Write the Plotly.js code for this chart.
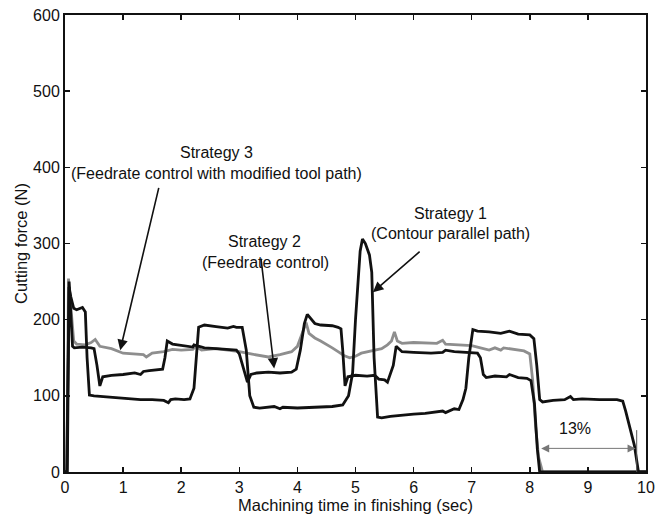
<!DOCTYPE html>
<html>
<head>
<meta charset="utf-8">
<script src="https://cdn.plot.ly/plotly-3.0.1.min.js"></script>
<style>html,body{margin:0;padding:0;background:#fff;}#chart{width:662px;height:516px;}</style>
</head>
<body>
<div id="chart"></div>
<script>
// Strategy 1 (Contour parallel path) [time sec, force N]
const strategy1 = [[0,0],[0.03,0],[0.07,243],[0.1,230],[0.15,215],[0.2,213],[0.3,216],[0.35,210],[0.38,150],[0.42,101],[0.5,100],[0.7,99],[0.9,98],[1.1,97],[1.3,95],[1.5,95],[1.7,94],[1.78,91],[1.82,95],[1.9,96],[2.05,95],[2.15,96],[2.22,110],[2.3,190],[2.4,193],[2.6,191],[2.8,189],[2.9,191],[2.95,190],[3.05,190],[3.12,160],[3.18,100],[3.25,85],[3.35,84],[3.6,86],[3.7,83],[3.75,85],[4.0,84],[4.3,85],[4.6,86],[4.78,88],[4.88,100],[4.95,130],[5.0,200],[5.08,290],[5.12,306],[5.17,300],[5.24,285],[5.28,262],[5.32,150],[5.38,72],[5.45,71],[5.6,73],[5.8,75],[6.0,76],[6.2,77],[6.4,79],[6.5,80],[6.55,78],[6.7,83],[6.78,82],[6.85,95],[6.9,110],[6.95,150],[7.02,187],[7.1,185],[7.3,184],[7.5,182],[7.6,184],[7.65,185],[7.8,181],[8.0,180],[8.07,175],[8.12,140],[8.17,95],[8.22,92],[8.4,94],[8.6,95],[8.7,99],[8.75,95],[8.9,96],[9.2,95],[9.5,95],[9.6,93],[9.65,80],[9.72,60],[9.8,35],[9.87,0],[10,0]];
// Strategy 2 (Feedrate control)
const strategy2 = [[0,0],[0.04,0],[0.07,250],[0.1,200],[0.13,165],[0.16,163],[0.3,164],[0.45,163],[0.5,162],[0.55,140],[0.6,113],[0.65,125],[0.8,127],[1.0,128],[1.2,130],[1.3,128],[1.35,132],[1.45,133],[1.6,134],[1.68,135],[1.72,150],[1.76,172],[1.85,168],[2.0,166],[2.2,164],[2.22,167],[2.4,163],[2.6,162],[2.8,161],[2.95,160],[3.0,155],[3.08,135],[3.14,118],[3.2,128],[3.3,130],[3.5,131],[3.7,130],[3.9,131],[3.98,135],[4.05,160],[4.12,195],[4.17,207],[4.25,200],[4.3,195],[4.4,193],[4.6,192],[4.7,190],[4.75,188],[4.78,160],[4.82,113],[4.87,125],[5.0,127],[5.2,126],[5.33,127],[5.4,122],[5.5,121],[5.55,118],[5.6,130],[5.65,140],[5.7,165],[5.8,158],[6.0,157],[6.3,156],[6.5,157],[6.55,160],[6.7,158],[6.9,157],[7.1,156],[7.15,150],[7.2,128],[7.25,124],[7.4,126],[7.6,125],[7.65,128],[7.8,124],[7.95,123],[8.02,120],[8.08,90],[8.13,30],[8.17,0],[10,0]];
// Strategy 3 (Feedrate control with modified tool path)
const strategy3 = [[0,0],[0.03,0],[0.06,254],[0.1,215],[0.15,172],[0.2,168],[0.35,167],[0.45,170],[0.52,174],[0.6,165],[0.8,162],[1.0,156],[1.2,155],[1.35,154],[1.4,151],[1.5,156],[1.7,158],[1.85,161],[2.0,160],[2.2,161],[2.25,165],[2.35,160],[2.6,162],[2.8,160],[3.0,158],[3.2,155],[3.4,153],[3.5,151],[3.7,154],[3.9,158],[4.0,165],[4.1,185],[4.15,196],[4.2,182],[4.3,176],[4.4,172],[4.5,168],[4.6,163],[4.7,158],[4.8,153],[4.9,150],[5.0,152],[5.1,156],[5.3,159],[5.45,162],[5.55,167],[5.62,172],[5.67,184],[5.72,172],[5.8,169],[6.0,170],[6.4,169],[6.5,173],[6.55,168],[6.8,167],[7.0,166],[7.15,163],[7.3,160],[7.4,163],[7.5,160],[7.55,163],[7.7,161],[7.9,159],[8.0,155],[8.05,120],[8.1,60],[8.15,20],[8.22,0],[10,0]];

const xTicks = [0,1,2,3,4,5,6,7,8,9,10];
const yTicks = [0,100,200,300,400,500,600];

const FONT = 'Liberation Sans, Arial, sans-serif';

function tr(arr, color) {
  return {x: arr.map(p => p[0]), y: arr.map(p => p[1]), type: 'scatter', mode: 'lines',
          line: {color: color, width: 2.8}, hoverinfo: 'none', showlegend: false};
}

const traces = [
  tr(strategy3, '#8e8e8e'),
  tr(strategy2, '#111111'),
  tr(strategy1, '#111111')
];

const txt = (x, y, t) => ({x: x, y: y, xref: 'x', yref: 'y', text: t, showarrow: false,
  font: {family: FONT, size: 16, color: '#111'}, xanchor: 'center', yanchor: 'middle'});
const arr = (x, y, ax, ay, color, w) => ({x: x, y: y, ax: ax, ay: ay, xref: 'x', yref: 'y', axref: 'x', ayref: 'y',
  text: '', showarrow: true, arrowhead: 2, arrowsize: 1.3, arrowwidth: w || 1.6, arrowcolor: color || '#111'});

const annotations = [
  txt(2.6, 420, 'Strategy 3'),
  txt(2.6, 392, '(Feedrate control with modified tool path)'),
  arr(0.95, 160, 1.62, 375),
  txt(3.43, 302, 'Strategy 2'),
  txt(3.45, 275, '(Feedrate control)'),
  arr(3.6, 136, 3.37, 282),
  txt(6.64, 340, 'Strategy 1'),
  txt(6.64, 313, '(Contour parallel path)'),
  arr(5.3, 236, 6.13, 291),
  txt(8.78, 57, '13%'),
  Object.assign(arr(9.82, 31, 8.17, 31, '#777', 1), {arrowside: 'end+start', arrowsize: 1.6})
];

const layout = {
  width: 662, height: 516,
  margin: {l: 65, r: 16, t: 15, b: 44},
  paper_bgcolor: '#fff', plot_bgcolor: '#fff',
  font: {family: FONT, size: 16, color: '#111'},
  xaxis: {range: [0, 10], tickvals: xTicks, ticktext: xTicks.map(String), ticks: 'inside', ticklen: 5, tickwidth: 1.5,
          tickcolor: '#111', showline: true, linewidth: 2, linecolor: '#111', mirror: 'ticks', showgrid: false, zeroline: false,
          tickfont: {size: 16},
          title: {text: 'Machining time in finishing (sec)', font: {size: 16.5}, standoff: 0}, automargin: false, fixedrange: true},
  yaxis: {range: [0, 600], tickvals: yTicks, ticktext: yTicks.map(String), ticks: 'inside', ticklen: 5, tickwidth: 1.5,
          tickcolor: '#111', showline: true, linewidth: 2, linecolor: '#111', mirror: 'ticks', showgrid: false, zeroline: false,
          tickfont: {size: 16},
          title: {text: 'Cutting force (N)', font: {size: 16.5}, standoff: 1}, automargin: false, fixedrange: true},
  annotations: annotations,
  shapes: [{type: 'line', xref: 'x', yref: 'y', x0: 9.84, x1: 9.84, y0: 0, y1: 55, line: {color: '#555', width: 1}}]
};

Plotly.newPlot('chart', traces, layout, {staticPlot: true, displayModeBar: false});
</script>
</body>
</html>
